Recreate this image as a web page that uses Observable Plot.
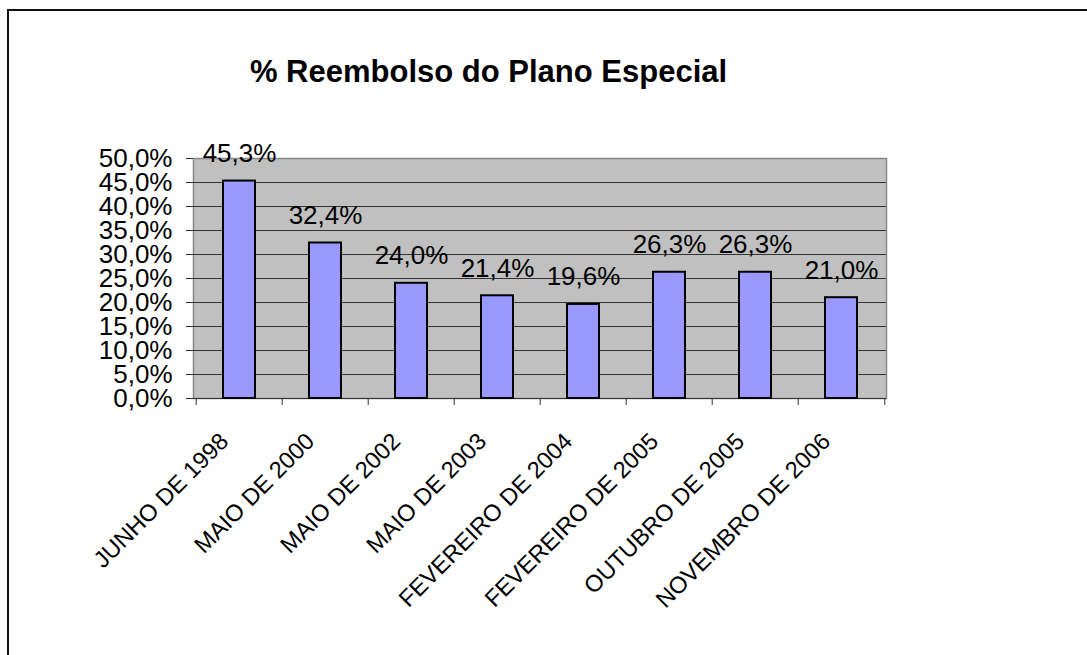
<!DOCTYPE html>
<html>
<head>
<meta charset="utf-8">
<script src="https://cdn.jsdelivr.net/npm/d3@7"></script>
<script src="https://cdn.jsdelivr.net/npm/@observablehq/plot@0.6"></script>
<style>
  html, body { margin: 0; padding: 0; background: #fff; }
  #wrap { position: relative; width: 1087px; height: 655px; overflow: hidden; font-family: "Liberation Sans", Arial, sans-serif; }
  #border { position: absolute; left: 7px; top: 9px; width: 1200px; height: 800px; border: 2px solid #111; box-sizing: border-box; }
  #title { position: absolute; left: 0; top: 56px; width: 977px; text-align: center; font-weight: bold; font-size: 31px; line-height: 31px; color: #000; }
  #chart { position: absolute; left: 0; top: 0; }
</style>
</head>
<body>
<div id="wrap">
  <div id="border"></div>
  <div id="chart"></div>
  <div id="title">% Reembolso do Plano Especial</div>
</div>
<script>
const categories = ["JUNHO DE 1998", "MAIO DE 2000", "MAIO DE 2002", "MAIO DE 2003", "FEVEREIRO DE 2004", "FEVEREIRO DE 2005", "OUTUBRO DE 2005", "NOVEMBRO DE 2006"];
const values = [45.3, 32.4, 24.0, 21.4, 19.6, 26.3, 26.3, 21.0];
const yTicks = [0, 5, 10, 15, 20, 25, 30, 35, 40, 45, 50];
const gridValues = [0, 5, 10, 15, 20, 25, 30, 35, 40, 45];

const data = categories.map((c, i) => ({cat: c, v: values[i]}));
const fmt = d => d.toFixed(1).replace(".", ",") + "%";

const W = 1087, H = 655;
const mL = 193, mR = 201, mT = 158, mB = 257;
const bw = (W - mL - mR) / categories.length;
const font = "Liberation Sans, Arial, sans-serif";

const chart = Plot.plot({
  width: W,
  height: H,
  marginLeft: mL,
  marginRight: mR,
  marginTop: mT,
  marginBottom: mB,
  style: {fontFamily: font, background: "transparent", overflow: "visible"},
  x: {domain: categories, padding: 0, axis: null},
  y: {domain: [0, 50], axis: null},
  marks: [
    Plot.frame({fill: "#C0C0C0", stroke: "#888888", strokeWidth: 1.5}),
    Plot.ruleY(gridValues, {stroke: "#333333", strokeWidth: 1}),
    Plot.axisY({ticks: yTicks, label: null, tickSize: 7, tickPadding: 14, tickFormat: fmt, fontSize: 26, stroke: "#333333", color: "#000"}),
    Plot.barY(data, {x: "cat", y: "v", fill: "#9999FF", stroke: "#000", strokeWidth: 2, insetLeft: 27, insetRight: 27}),
    Plot.ruleX(categories, {x: d => d, y1: () => 0, y2: () => 0, insetBottom: -7, dx: -bw / 2, stroke: "#333333"}),
    Plot.ruleX(categories.slice(-1), {x: d => d, y1: () => 0, y2: () => 0, insetBottom: -7, dx: bw / 2, stroke: "#333333"}),
    Plot.text(data, {x: "cat", y: "v", text: d => fmt(d.v), lineAnchor: "bottom", dy: -19, fontSize: 26, fill: "#000"}),
    Plot.text(categories, {x: d => d, y: () => 0, text: d => d, rotate: -45, textAnchor: "end", dx: -15, dy: 39, fontSize: 23.5, fill: "#000"})
  ]
});
document.getElementById("chart").appendChild(chart);
</script>
</body>
</html>
